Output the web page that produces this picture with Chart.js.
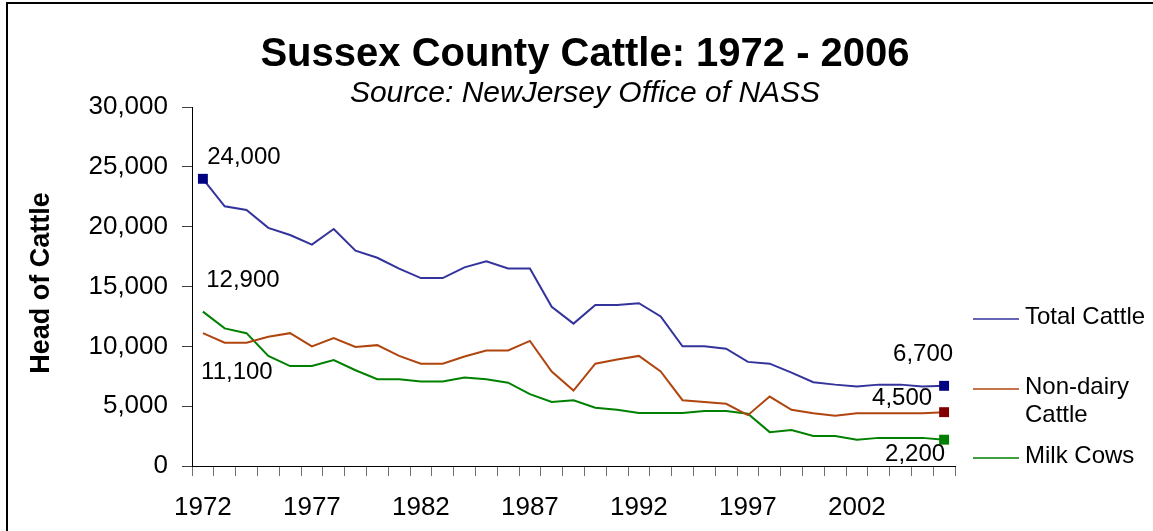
<!DOCTYPE html>
<html>
<head>
<meta charset="utf-8">
<script src="https://cdn.jsdelivr.net/npm/chart.js@4.4.0/dist/chart.umd.min.js"></script>
<style>
  body { margin: 0; background: #fff; }
</style>
</head>
<body>
<canvas id="cattle" width="1153" height="531"></canvas>
<script>
// years on the x axis
const years = ['1972','1973','1974','1975','1976','1977','1978','1979','1980','1981',
               '1982','1983','1984','1985','1986','1987','1988','1989','1990','1991',
               '1992','1993','1994','1995','1996','1997','1998','1999','2000','2001',
               '2002','2003','2004','2005','2006'];
const shownYears = ['1972','1977','1982','1987','1992','1997','2002'];

// head of cattle
const totalCattle = [24000,21700,21400,19900,19300,18500,19800,18000,17400,16500,
                     15700,15700,16600,17100,16500,16500,13300,11900,13450,13450,
                     13600,12500,10000,10000,9800,8700,8550,7800,7000,6800,
                     6650,6800,6800,6650,6700];
const nonDairy = [11100,10300,10300,10800,11100,10000,10700,9950,10100,9200,
                  8550,8550,9150,9650,9650,10450,7900,6300,8550,8900,
                  9200,7900,5500,5350,5200,4250,5800,4700,4400,4200,
                  4400,4400,4400,4400,4500];
const milkCows = [12900,11500,11100,9200,8350,8350,8850,8000,7250,7250,
                  7070,7070,7400,7250,6960,6000,5350,5500,4870,4700,
                  4420,4420,4420,4600,4600,4370,2830,3000,2500,2500,
                  2200,2350,2350,2350,2200];

const yTicks = [0,5000,10000,15000,20000,25000,30000];

const FONT = '"Liberation Sans", Arial, sans-serif';
const fmt = v => v.toLocaleString('en-US');
const last = years.length - 1;

// which points get a value label and where it sits relative to the point
const valueLabels = [
  {ds: 0, i: 0,    dx: 41,  dy: -21},
  {ds: 2, i: 0,    dx: 40,  dy: -31},
  {ds: 1, i: 0,    dx: 34,  dy: 39},
  {ds: 0, i: last, dx: -21, dy: -31},
  {ds: 1, i: last, dx: -42, dy: -14},
  {ds: 2, i: last, dx: -29, dy: 15}
];

const legendRows = [
  {ds: 0, lines: ['Total Cattle'],         y: 317},
  {ds: 1, lines: ['Non-dairy', 'Cattle'],  y: 387},
  {ds: 2, lines: ['Milk Cows'],            y: 456}
];

const decorations = {
  id: 'decorations',
  beforeDraw(chart) {
    const c = chart.ctx;
    c.save();
    c.fillStyle = '#fff';
    c.fillRect(0, 0, chart.width, chart.height);
    c.strokeStyle = '#000';
    c.lineWidth = 2;
    c.beginPath();
    c.moveTo(7, chart.height);
    c.lineTo(7, 3);
    c.lineTo(chart.width, 3);
    c.stroke();
    c.restore();
  },
  afterDraw(chart) {
    const c = chart.ctx;
    c.save();
    c.fillStyle = '#000';
    c.textAlign = 'center';
    c.textBaseline = 'alphabetic';
    c.font = 'bold 40px ' + FONT;
    c.fillText('Sussex County Cattle: 1972 - 2006', 585, 66);
    c.font = 'italic 30px ' + FONT;
    c.fillText('Source: NewJersey Office of NASS', 585, 102);

    // y axis title
    c.save();
    c.translate(42, 283);
    c.rotate(-Math.PI / 2);
    c.textBaseline = 'middle';
    c.font = 'bold 27px ' + FONT;
    c.fillText('Head of Cattle', 0, 0);
    c.restore();

    // value labels
    c.font = '24px ' + FONT;
    c.textBaseline = 'middle';
    valueLabels.forEach(l => {
      const pt = chart.getDatasetMeta(l.ds).data[l.i];
      const v = chart.data.datasets[l.ds].data[l.i];
      c.fillText(fmt(v), pt.x + l.dx, pt.y + l.dy);
    });

    // legend
    c.textAlign = 'left';
    legendRows.forEach(r => {
      const ds = chart.data.datasets[r.ds];
      c.strokeStyle = ds.borderColor;
      c.lineWidth = 1.5;
      c.beginPath();
      c.moveTo(973, r.y + 2);
      c.lineTo(1019, r.y + 2);
      c.stroke();
      c.fillStyle = '#000';
      r.lines.forEach((t, k) => c.fillText(t, 1025, r.y + k * 28));
    });
    c.restore();
  }
};

function markerSize(withFirst) {
  return ctx => (ctx.dataIndex === last || (withFirst && ctx.dataIndex === 0)) ? 7 : 0;
}

new Chart(document.getElementById('cattle'), {
  type: 'line',
  data: {
    labels: years,
    datasets: [
      {
        label: 'Total Cattle',
        data: totalCattle,
        borderColor: '#33339c',
        borderWidth: 2,
        pointStyle: 'rect',
        pointRadius: markerSize(true),
        pointBackgroundColor: '#000080',
        pointBorderColor: '#000080',
        pointBorderWidth: 0,
        tension: 0
      },
      {
        label: 'Non-dairy Cattle',
        data: nonDairy,
        borderColor: '#b0450f',
        borderWidth: 2,
        pointStyle: 'rect',
        pointRadius: markerSize(false),
        pointBackgroundColor: '#800000',
        pointBorderColor: '#800000',
        pointBorderWidth: 0,
        tension: 0
      },
      {
        label: 'Milk Cows',
        data: milkCows,
        borderColor: '#008000',
        borderWidth: 2,
        pointStyle: 'rect',
        pointRadius: markerSize(false),
        pointBackgroundColor: '#008000',
        pointBorderColor: '#008000',
        pointBorderWidth: 0,
        tension: 0
      }
    ]
  },
  options: {
    responsive: false,
    animation: false,
    events: [],
    layout: { padding: { top: 107, left: 0, right: 198, bottom: 0 } },
    plugins: {
      legend: { display: false },
      title: { display: false },
      tooltip: { enabled: false }
    },
    scales: {
      x: {
        type: 'category',
        offset: true,
        grid: { offset: true, drawOnChartArea: false, tickLength: 10, color: '#707070' },
        border: { color: '#000', width: 1 },
        ticks: {
          autoSkip: false,
          maxRotation: 0,
          padding: 16,
          color: '#000',
          font: { family: FONT, size: 26 },
          callback: function (value, index) {
            const y = this.getLabelForValue(value);
            return shownYears.includes(y) ? y : '';
          }
        },
        afterFit: s => { s.height = 65; }
      },
      y: {
        min: 0,
        max: 30000,
        afterBuildTicks: s => { s.ticks = yTicks.map(v => ({value: v})); },
        grid: { drawOnChartArea: false, tickLength: 10, color: '#404040' },
        border: { color: '#000', width: 1 },
        ticks: {
          padding: 14,
          color: '#000',
          font: { family: FONT, size: 26 },
          callback: v => fmt(v)
        },
        afterFit: s => { s.width = 192; }
      }
    }
  },
  plugins: [decorations]
});
</script>
</body>
</html>
